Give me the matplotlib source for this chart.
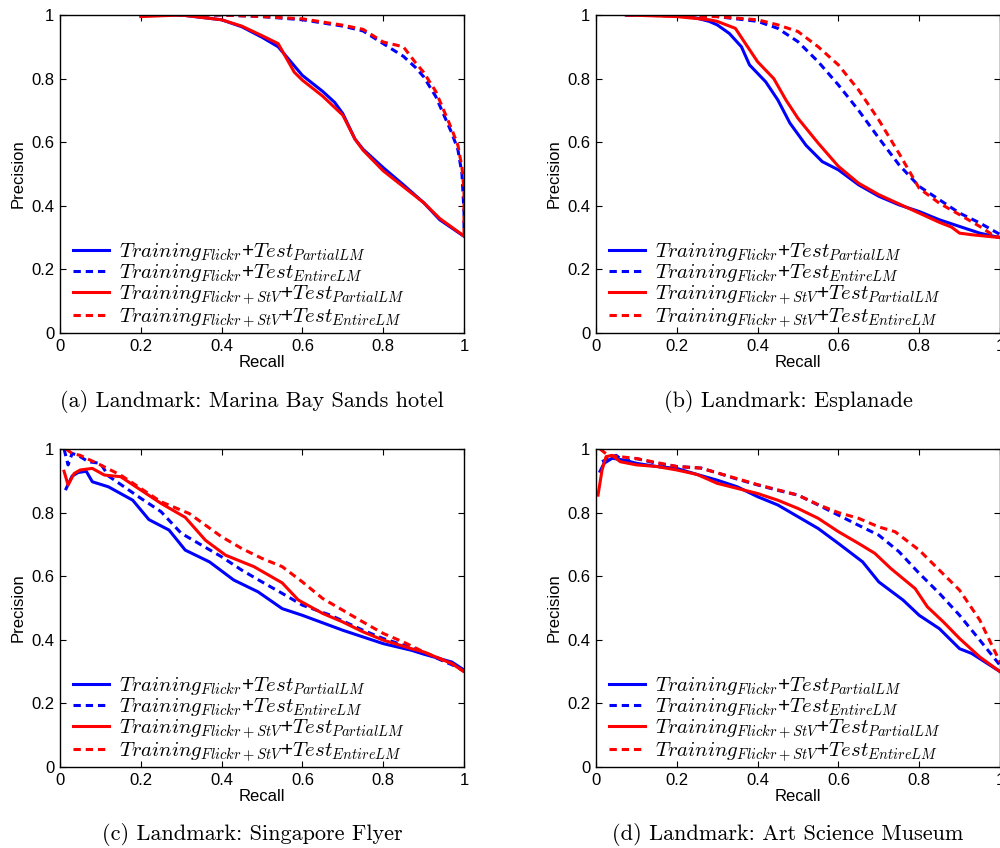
import matplotlib
matplotlib.use("Agg")
import matplotlib.pyplot as plt

plt.rcParams['font.family'] = ['Liberation Sans', 'DejaVu Sans']
plt.rcParams['mathtext.fontset'] = 'cm'

# ---- series labels ----
LABELS = [
    r'$Training_{Flickr}$+$Test_{PartialLM}$',
    r'$Training_{Flickr}$+$Test_{EntireLM}$',
    r'$Training_{Flickr+StV}$+$Test_{PartialLM}$',
    r'$Training_{Flickr+StV}$+$Test_{EntireLM}$',
]
CAPTIONS = [
    "(a) Landmark: Marina Bay Sands hotel",
    "(b) Landmark: Esplanade",
    "(c) Landmark: Singapore Flyer",
    "(d) Landmark: Art Science Museum",
]
TICKS = [0, 0.2, 0.4, 0.6, 0.8, 1]
TICK_LABELS = ["0", "0.2", "0.4", "0.6", "0.8", "1"]

# ---- (a) Marina Bay Sands hotel ----
a_fp_r = [0.2, 0.3, 0.4, 0.45, 0.5, 0.54, 0.58, 0.6, 0.65, 0.68, 0.7, 0.73, 0.75, 0.8, 0.85, 0.9, 0.94, 1.0]
a_fp_p = [1.0, 1.0, 0.985, 0.963, 0.93, 0.90, 0.84, 0.81, 0.76, 0.725, 0.69, 0.61, 0.578, 0.52, 0.466, 0.41, 0.356, 0.304]
a_fe_r = [0.2, 0.4, 0.5, 0.6, 0.65, 0.7, 0.75, 0.8, 0.85, 0.88, 0.9, 0.93, 0.95, 0.97, 0.985, 0.995, 1.0, 1.0]
a_fe_p = [1.0, 1.0, 0.995, 0.985, 0.975, 0.965, 0.95, 0.91, 0.87, 0.835, 0.806, 0.744, 0.686, 0.628, 0.576, 0.5, 0.38, 0.305]
a_sp_r = [0.2, 0.3, 0.4, 0.45, 0.5, 0.54, 0.58, 0.6, 0.65, 0.7, 0.73, 0.75, 0.8, 0.85, 0.9, 0.94, 1.0]
a_sp_p = [0.995, 1.0, 0.985, 0.965, 0.935, 0.91, 0.82, 0.795, 0.745, 0.685, 0.61, 0.575, 0.51, 0.46, 0.41, 0.36, 0.305]
a_se_r = [0.2, 0.4, 0.5, 0.6, 0.65, 0.7, 0.75, 0.8, 0.85, 0.88, 0.9, 0.93, 0.95, 0.97, 0.985, 0.995, 1.0, 1.0]
a_se_p = [1.0, 1.0, 0.995, 0.988, 0.978, 0.968, 0.955, 0.915, 0.9, 0.85, 0.82, 0.76, 0.70, 0.64, 0.59, 0.52, 0.45, 0.30]

# ---- (b) Esplanade ----
b_fp_r = [0.075, 0.2, 0.25, 0.28, 0.3, 0.33, 0.36, 0.38, 0.42, 0.45, 0.48, 0.52, 0.56, 0.6, 0.65, 0.7, 0.75, 0.8, 0.85, 0.9, 0.95, 1.0]
b_fp_p = [1.0, 1.0, 0.99, 0.98, 0.969, 0.942, 0.90, 0.843, 0.79, 0.733, 0.66, 0.59, 0.539, 0.513, 0.466, 0.43, 0.403, 0.382, 0.356, 0.335, 0.314, 0.30]
b_fe_r = [0.075, 0.3, 0.4, 0.45, 0.5, 0.55, 0.6, 0.65, 0.7, 0.75, 0.8, 0.85, 0.9, 0.95, 1.0]
b_fe_p = [1.0, 0.995, 0.98, 0.958, 0.916, 0.853, 0.78, 0.70, 0.613, 0.529, 0.461, 0.419, 0.377, 0.346, 0.31]
b_sp_r = [0.075, 0.2, 0.28, 0.3, 0.345, 0.37, 0.4, 0.44, 0.47, 0.5, 0.55, 0.6, 0.65, 0.7, 0.75, 0.8, 0.85, 0.88, 0.9, 0.93, 1.0]
b_sp_p = [1.0, 0.995, 0.985, 0.98, 0.958, 0.91, 0.853, 0.80, 0.733, 0.675, 0.597, 0.524, 0.471, 0.435, 0.406, 0.377, 0.348, 0.333, 0.314, 0.309, 0.30]
b_se_r = [0.075, 0.3, 0.4, 0.45, 0.5, 0.55, 0.6, 0.65, 0.7, 0.75, 0.8, 0.85, 0.9, 0.95, 0.98, 1.0]
b_se_p = [1.0, 0.995, 0.985, 0.969, 0.948, 0.90, 0.843, 0.764, 0.67, 0.565, 0.455, 0.408, 0.372, 0.335, 0.31, 0.30]

# ---- (c) Singapore Flyer ----
c_fp_r = [0.015, 0.03, 0.045, 0.065, 0.08, 0.12, 0.15, 0.18, 0.22, 0.27, 0.31, 0.37, 0.43, 0.49, 0.55, 0.6, 0.7, 0.8, 0.87, 0.9, 0.97, 1.0]
c_fp_p = [0.875, 0.915, 0.926, 0.93, 0.897, 0.881, 0.86, 0.839, 0.778, 0.745, 0.682, 0.645, 0.588, 0.551, 0.498, 0.477, 0.43, 0.388, 0.367, 0.355, 0.33, 0.305]
c_fe_r = [0.01, 0.02, 0.03, 0.045, 0.07, 0.1, 0.12, 0.2, 0.25, 0.3, 0.35, 0.4, 0.45, 0.5, 0.55, 0.6, 0.67, 0.75, 0.8, 0.87, 0.9, 1.0]
c_fe_p = [1.0, 0.95, 0.986, 0.98, 0.96, 0.955, 0.915, 0.845, 0.803, 0.735, 0.698, 0.661, 0.619, 0.582, 0.546, 0.509, 0.477, 0.43, 0.404, 0.375, 0.36, 0.305]
c_sp_r = [0.01, 0.02, 0.035, 0.05, 0.08, 0.11, 0.15, 0.2, 0.25, 0.31, 0.36, 0.41, 0.48, 0.55, 0.59, 0.65, 0.7, 0.75, 0.8, 0.87, 0.9, 0.97, 1.0]
c_sp_p = [0.93, 0.887, 0.923, 0.934, 0.939, 0.918, 0.913, 0.871, 0.829, 0.785, 0.713, 0.666, 0.63, 0.579, 0.525, 0.483, 0.456, 0.425, 0.399, 0.372, 0.362, 0.325, 0.30]
c_se_r = [0.015, 0.03, 0.05, 0.1, 0.15, 0.2, 0.25, 0.32, 0.4, 0.45, 0.5, 0.55, 0.6, 0.65, 0.7, 0.75, 0.8, 0.85, 0.9, 0.97, 1.0]
c_se_p = [1.0, 0.986, 0.98, 0.95, 0.918, 0.876, 0.834, 0.797, 0.724, 0.687, 0.656, 0.63, 0.582, 0.53, 0.493, 0.456, 0.42, 0.393, 0.362, 0.325, 0.30]

# ---- (d) Art Science Museum ----
d_fp_r = [0.01, 0.02, 0.04, 0.07, 0.1, 0.15, 0.2, 0.25, 0.3, 0.35, 0.4, 0.45, 0.5, 0.55, 0.6, 0.66, 0.7, 0.76, 0.8, 0.85, 0.9, 0.93, 1.0]
d_fp_p = [0.93, 0.955, 0.971, 0.965, 0.955, 0.945, 0.939, 0.92, 0.902, 0.881, 0.85, 0.824, 0.787, 0.75, 0.703, 0.645, 0.582, 0.525, 0.477, 0.435, 0.372, 0.357, 0.30]
d_fe_r = [0.015, 0.03, 0.05, 0.07, 0.1, 0.15, 0.2, 0.26, 0.3, 0.35, 0.4, 0.45, 0.5, 0.55, 0.6, 0.65, 0.7, 0.75, 0.8, 0.85, 0.9, 0.95, 1.0]
d_fe_p = [0.96, 0.97, 0.98, 0.96, 0.97, 0.955, 0.945, 0.94, 0.925, 0.905, 0.887, 0.87, 0.855, 0.824, 0.792, 0.76, 0.729, 0.677, 0.609, 0.546, 0.477, 0.399, 0.32]
d_sp_r = [0.005, 0.015, 0.025, 0.04, 0.06, 0.1, 0.15, 0.2, 0.25, 0.3, 0.35, 0.4, 0.45, 0.5, 0.55, 0.6, 0.65, 0.69, 0.73, 0.79, 0.82, 0.86, 0.9, 0.95, 1.0]
d_sp_p = [0.855, 0.934, 0.976, 0.98, 0.96, 0.95, 0.945, 0.934, 0.92, 0.892, 0.876, 0.86, 0.839, 0.813, 0.782, 0.74, 0.703, 0.672, 0.624, 0.561, 0.504, 0.456, 0.404, 0.346, 0.30]
d_se_r = [0.01, 0.03, 0.1, 0.2, 0.26, 0.3, 0.4, 0.5, 0.55, 0.6, 0.65, 0.7, 0.74, 0.8, 0.85, 0.9, 0.95, 1.0]
d_se_p = [1.0, 0.98, 0.97, 0.945, 0.94, 0.925, 0.888, 0.855, 0.825, 0.80, 0.782, 0.755, 0.74, 0.682, 0.619, 0.556, 0.462, 0.33]

PANELS = [
    [(a_fp_r, a_fp_p), (a_fe_r, a_fe_p), (a_sp_r, a_sp_p), (a_se_r, a_se_p)],
    [(b_fp_r, b_fp_p), (b_fe_r, b_fe_p), (b_sp_r, b_sp_p), (b_se_r, b_se_p)],
    [(c_fp_r, c_fp_p), (c_fe_r, c_fe_p), (c_sp_r, c_sp_p), (c_se_r, c_se_p)],
    [(d_fp_r, d_fp_p), (d_fe_r, d_fe_p), (d_sp_r, d_sp_p), (d_se_r, d_se_p)],
]
STYLES = [("#0000ff", "-"), ("#0000ff", "--"), ("#ff0000", "-"), ("#ff0000", "--")]

W, H = 1000, 848
fig = plt.figure(figsize=(W / 100, H / 100), dpi=100)

# axes boxes in pixels: (left, top, right, bottom)
BOXES = [(60, 15, 464, 333), (596, 15, 1000, 333),
         (60, 449, 464, 767), (596, 449, 1000, 767)]
CAPTION_POS = [(252, 401), (788, 401), (252, 835), (788, 835)]

for i, (l, t, r, b) in enumerate(BOXES):
    ax = fig.add_axes([l / W, 1 - b / H, (r - l) / W, (b - t) / H])
    for (rx, py), (col, ls), lab in zip(PANELS[i], STYLES, LABELS):
        line, = ax.plot(rx, py, color=col, lw=2.2, ls=ls, label=lab)
        if ls == "--":
            line.set_dashes((2.4, 1.6))
    ax.set_xlim(0, 1)
    ax.set_ylim(0, 1)
    ax.set_xticks(TICKS)
    ax.set_xticklabels(TICK_LABELS)
    ax.set_yticks(TICKS)
    ax.set_yticklabels(TICK_LABELS)
    ax.tick_params(direction="in", top=True, right=True, labelsize=12,
                   length=4, width=0.8, pad=4)
    for s in ax.spines.values():
        s.set_linewidth(1.0)
    ax.set_xlabel("Recall", fontsize=12, labelpad=1)
    ax.set_ylabel("Precision", fontsize=12, labelpad=4)
    ax.legend(loc="lower left", bbox_to_anchor=(0.032, 0.01), frameon=False,
              fontsize=15, handlelength=1.75, handletextpad=0.45,
              labelspacing=-0.05, borderpad=0.0, borderaxespad=0)
    cx, cy = CAPTION_POS[i]
    fig.text(cx / W, 1 - cy / H, CAPTIONS[i], ha="center", va="center",
             fontsize=16, family=["cmr10", "DejaVu Serif"])

fig.savefig("out.png", dpi=100)
